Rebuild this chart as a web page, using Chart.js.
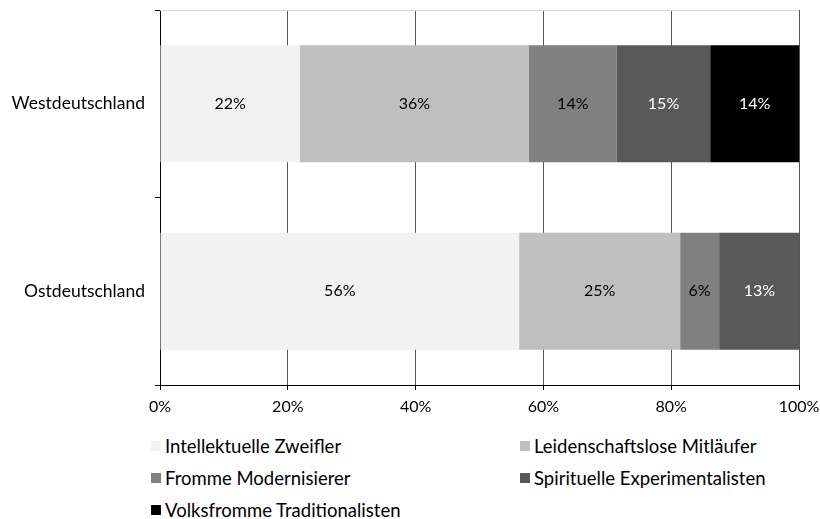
<!DOCTYPE html>
<html>
<head>
<meta charset="utf-8">
<script src="https://cdn.jsdelivr.net/npm/chart.js@4"></script>
<style>
  body { margin: 0; background: #fff; width: 820px; height: 519px; overflow: hidden; font-family: Lato, sans-serif; }
  #wrap { position: absolute; left: 0; top: 0; width: 820px; height: 425px; }
  #legend { position: absolute; left: 151px; top: 434px; display: grid; grid-template-columns: 369px 300px; row-gap: 8px; font-size: 18.5px; color: #000; }
  #legend div { display: flex; align-items: center; height: 24px; white-space: nowrap; }
  #legend span.box { display: inline-block; width: 10px; height: 10px; margin-right: 4px; }
</style>
</head>
<body>
<div id="wrap"><canvas id="chart"></canvas></div>
<div id="legend"></div>
<script>
const regionen = ['Westdeutschland', 'Ostdeutschland'];
const typen = ['Intellektuelle Zweifler', 'Leidenschaftslose Mitläufer', 'Fromme Modernisierer', 'Spirituelle Experimentalisten', 'Volksfromme Traditionalisten'];
const intellektuelle = [21.9, 56.2];
const mitlaeufer = [35.8, 25.2];
const modernisierer = [13.8, 6.1];
const experimentalisten = [14.6, 12.6];
const traditionalisten = [13.9, 0];
const farben = ['#f2f2f2', '#bfbfbf', '#808080', '#595959', '#000000'];
const textFarben = ['#000', '#000', '#000', '#fff', '#fff'];
const xTicks = [0, 20, 40, 60, 80, 100];

const reihen = [intellektuelle, mitlaeufer, modernisierer, experimentalisten, traditionalisten];

// Prozentwerte in die Balken schreiben
const wertePlugin = {
    id: 'werte',
    afterDatasetsDraw(chart) {
        const ctx = chart.ctx;
        ctx.save();
        ctx.font = '16px Lato, sans-serif';
        ctx.textAlign = 'center';
        ctx.textBaseline = 'middle';
        chart.data.datasets.forEach((ds, i) => {
            chart.getDatasetMeta(i).data.forEach((bar, j) => {
                const v = ds.data[j];
                if (!v) return;
                ctx.fillStyle = textFarben[i];
                ctx.fillText(Math.round(v) + '%', (bar.x + bar.base) / 2, bar.y);
            });
        });
        ctx.restore();
    }
};

// helle Linie oben am Diagramm
const rahmenPlugin = {
    id: 'rahmen',
    beforeDatasetsDraw(chart) {
        const { ctx, chartArea } = chart;
        ctx.save();
        ctx.strokeStyle = '#d9d9d9';
        ctx.lineWidth = 1;
        ctx.beginPath();
        ctx.moveTo(chartArea.left, chartArea.top + 0.5);
        ctx.lineTo(chartArea.right, chartArea.top + 0.5);
        ctx.stroke();
        ctx.restore();
    }
};

new Chart(document.getElementById('chart'), {
    type: 'bar',
    data: {
        labels: regionen,
        datasets: typen.map((t, i) => ({
            label: t,
            data: reihen[i],
            backgroundColor: farben[i],
            borderWidth: 0,
            categoryPercentage: 1,
            barPercentage: 0.625
        }))
    },
    options: {
        indexAxis: 'y',
        responsive: true,
        maintainAspectRatio: false,
        animation: false,
        layout: { padding: { top: 10, right: 21, left: 0, bottom: 0 } },
        plugins: {
            legend: { display: false },
            tooltip: { enabled: false }
        },
        scales: {
            x: {
                stacked: true,
                min: 0,
                max: 100,
                afterBuildTicks: s => { s.ticks = xTicks.map(v => ({ value: v })); },
                afterFit: s => { s.height = 40; s.paddingLeft = 0; s.paddingRight = 0; },
                ticks: {
                    callback: v => v + '%',
                    color: '#000',
                    font: { family: 'Lato', size: 16 },
                    padding: 7
                },
                grid: { color: '#555', tickColor: '#000', tickLength: 5, lineWidth: 1 },
                border: { color: '#000', width: 1 }
            },
            y: {
                stacked: true,
                afterFit: s => { s.width = 160; s.paddingTop = 0; s.paddingBottom = 0; },
                ticks: {
                    color: '#000',
                    font: { family: 'Lato', size: 17.5 },
                    padding: 10
                },
                grid: { offset: true, drawOnChartArea: false, tickColor: '#000', tickLength: 5 },
                border: { color: '#000', width: 1 }
            }
        }
    },
    plugins: [wertePlugin, rahmenPlugin]
});

const legend = document.getElementById('legend');
typen.forEach((t, i) => {
    const d = document.createElement('div');
    d.innerHTML = '<span class="box" style="background:' + farben[i] + '"></span>' + t;
    legend.appendChild(d);
});
</script>
</body>
</html>
